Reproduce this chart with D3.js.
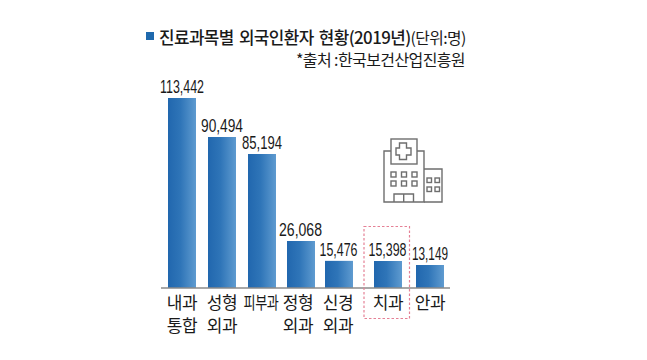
<!DOCTYPE html>
<html>
<head>
<meta charset="utf-8">
<script src="https://cdn.jsdelivr.net/npm/d3@7"></script>
<style>
    html, body { margin: 0; padding: 0; background: #fff; }
    text { font-family: "Noto Sans CJK KR", sans-serif; fill: #1a1a1a; }
</style>
</head>
<body>
<div id="graph"></div>
<script>
//Données
const categories = ["내과통합", "성형외과", "피부과", "정형외과", "신경외과", "치과", "안과"];
const labelLines = [["내과", "통합"], ["성형", "외과"], ["피부과"], ["정형", "외과"], ["신경", "외과"], ["치과"], ["안과"]];
const patients = [113442, 90494, 85194, 26068, 15476, 15398, 13149];

const width = 647, height = 360;

const svg = d3.select("#graph")
    .append("svg")
    .attr("width", width)
    .attr("height", height)
    .style("display", "block");

//Dégradé des barres
const grad = svg.append("defs")
    .append("linearGradient")
    .attr("id", "barGrad");
grad.append("stop").attr("offset", "0%").attr("stop-color", "#2167ae");
grad.append("stop").attr("offset", "45%").attr("stop-color", "#2f75b8");
grad.append("stop").attr("offset", "100%").attr("stop-color", "#5f9bd0");

//Échelles : les colonnes ne sont pas régulières, et la hauteur n'est pas proportionnelle
const x = d3.scaleOrdinal()
    .domain(categories)
    .range([168, 208, 248, 287, 325, 374, 416]);
const barWidth = 28;

//les textes ne sont pas tout à fait centrés sur les barres
const labelX = d3.scaleOrdinal()
    .domain(categories)
    .range([182, 222, 261, 298, 338, 388, 430]);
const valueX = d3.scaleOrdinal()
    .domain(categories)
    .range([182, 222, 262, 300.5, 338.5, 387.5, 430]);
const valueWidths = [44, 42, 40, 43, 38, 38, 36];

const y = d3.scaleLinear()
    .domain([0, 13149, 15398, 26068, 85194, 90494, 113442])
    .range([288, 265, 261, 241, 154, 137, 98]);

//Barres
svg.append("g")
    .selectAll("rect")
    .data(patients)
    .enter()
    .append("rect")
    .attr("x", (d, i) => x(categories[i]))
    .attr("y", d => y(d))
    .attr("width", barWidth)
    .attr("height", d => y(0) - y(d))
    .attr("fill", "url(#barGrad)");

//Ligne de base
svg.append("line")
    .attr("x1", 161)
    .attr("x2", 450)
    .attr("y1", y(0))
    .attr("y2", y(0))
    .attr("stroke", "#8a8a8a")
    .attr("stroke-width", 1.5);

//Valeurs
svg.append("g")
    .selectAll("text")
    .data(patients)
    .enter()
    .append("text")
    .text(d => d3.format(",")(d))
    .attr("x", (d, i) => valueX(categories[i]))
    .attr("y", d => y(d) - 5)
    .attr("text-anchor", "middle")
    .attr("textLength", (d, i) => valueWidths[i])
    .attr("lengthAdjust", "spacingAndGlyphs")
    .style("font-family", "'Liberation Sans', sans-serif")
    .style("font-size", "17.5px");

//Catégories
const cat = svg.append("g")
    .selectAll("text")
    .data(labelLines)
    .enter()
    .append("text")
    .attr("text-anchor", "middle")
    .style("font-size", "17px")
    .style("letter-spacing", "-0.5px");

cat.selectAll("tspan")
    .data((d, i) => d.map(t => ({ t: t, i: i })))
    .enter()
    .append("tspan")
    .text(d => d.t)
    .attr("x", d => labelX(categories[d.i]))
    .attr("y", (d, j) => 309 + j * 22.5);

//피부과 est condensé dans l'original
cat.filter(d => d.length === 1 && d[0].length === 3)
    .attr("textLength", 35)
    .attr("lengthAdjust", "spacingAndGlyphs");

//Cadre pointillé du dentaire
svg.append("rect")
    .attr("x", 364)
    .attr("y", 226.5)
    .attr("width", 45.5)
    .attr("height", 92)
    .attr("fill", "none")
    .attr("stroke", "#e58095")
    .attr("stroke-width", 1.2)
    .attr("stroke-dasharray", "2.5,2");

//Titre
svg.append("rect")
    .attr("x", 146)
    .attr("y", 32)
    .attr("width", 8)
    .attr("height", 8)
    .attr("fill", "#1f69ad");

const title = svg.append("text")
    .attr("x", 159)
    .attr("y", 43.5)
    .style("letter-spacing", "-0.6px")
    .style("word-spacing", "2px");
title.append("tspan")
    .text("진료과목별 외국인환자 현황(2019년)")
    .style("font-size", "16.9px")
    .style("font-weight", "500");
title.append("tspan")
    .text("(단위:명)")
    .style("font-size", "15.8px");

svg.append("text")
    .text("*출처 :한국보건산업진흥원")
    .attr("x", 465)
    .attr("y", 65.5)
    .attr("text-anchor", "end")
    .style("font-size", "16px")
    .style("letter-spacing", "-0.6px");

//Icône hôpital
const icon = svg.append("g")
    .attr("fill", "none")
    .attr("stroke", "#6e6e6e")
    .attr("stroke-width", 1.4);

icon.append("path").attr("d", "M391 151H384V202H424V151H417");
icon.append("rect").attr("x", 391).attr("y", 139).attr("width", 26).attr("height", 25);
icon.append("path").attr("d", "M399.5 143H406.5V148H411V155H406.5V159.5H399.5V155H396V148H399.5Z");
icon.append("path").attr("d", "M424 169H442V202H424");
icon.append("path").attr("d", "M394 202V194H413.5V202M403.7 194V202");

//Fenêtres
const winX = [391, 401.5, 412];
const winY = [172, 181];
winY.forEach(wy => winX.forEach(wx => {
    icon.append("rect").attr("x", wx).attr("y", wy).attr("width", 5).attr("height", 5);
}));
[427, 435].forEach(wx => [178, 187].forEach(wy => {
    icon.append("rect").attr("x", wx).attr("y", wy).attr("width", 4.5).attr("height", 4.5);
}));
</script>
</body>
</html>
